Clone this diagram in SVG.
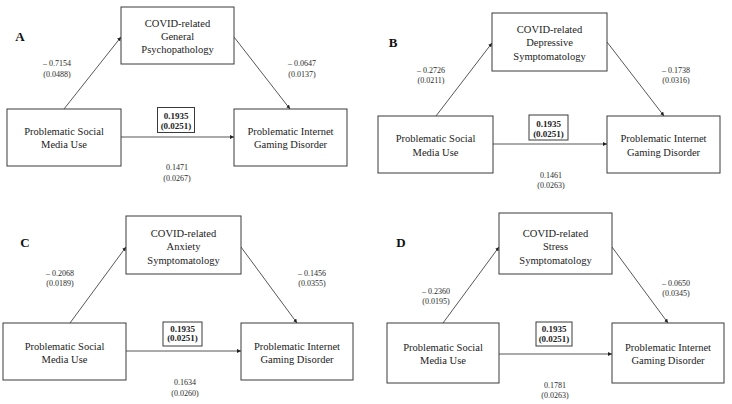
<svg xmlns="http://www.w3.org/2000/svg" width="732" height="404" viewBox="0 0 732 404">
<style>
.bg{fill:#ffffff}
.box{fill:#ffffff;stroke:#3a3a3a;stroke-width:1}
.cbox{fill:#ffffff;stroke:#3a3a3a;stroke-width:1}
.t{font-family:"Liberation Serif","Times New Roman",serif;font-size:10.5px;fill:#222;text-anchor:middle}
.s{font-family:"Liberation Serif","Times New Roman",serif;font-size:8px;fill:#2a2a2a;text-anchor:middle}
.b{font-family:"Liberation Serif","Times New Roman",serif;font-size:9px;font-weight:bold;fill:#222;text-anchor:middle}
.p{font-family:"Liberation Serif","Times New Roman",serif;font-size:13px;font-weight:bold;fill:#111;text-anchor:middle}
.e{fill:none;stroke:#444;stroke-width:0.9;marker-end:url(#ah)}
</style>
<defs>
<marker id="ah" viewBox="0 0 6 6" refX="6" refY="3" markerWidth="4" markerHeight="4" markerUnits="userSpaceOnUse" orient="auto">
<path d="M0,0 L6,3 L0,6 z" fill="#222"/>
</marker>
</defs>
<rect class="bg" x="0" y="0" width="732" height="404"/>

<g id="connectors">
<!-- A -->
<line class="e" x1="64" y1="109" x2="121" y2="37"/>
<line class="e" x1="234" y1="37" x2="290" y2="109"/>
<line class="e" x1="121" y1="137" x2="234" y2="137"/>
<!-- B -->
<line class="e" x1="436" y1="116" x2="492" y2="43"/>
<line class="e" x1="607" y1="42" x2="664" y2="116"/>
<line class="e" x1="493" y1="144" x2="607" y2="144"/>
<!-- C -->
<line class="e" x1="70" y1="323" x2="126" y2="247"/>
<line class="e" x1="241" y1="247" x2="297" y2="323"/>
<line class="e" x1="126" y1="351" x2="241" y2="351"/>
<!-- D -->
<line class="e" x1="443" y1="323" x2="499" y2="247"/>
<line class="e" x1="612" y1="247" x2="668" y2="323"/>
<line class="e" x1="499" y1="354" x2="612" y2="354"/>
</g>

<!-- Panel A -->
<g id="panelA">
<text class="p" x="20" y="41">A</text>
<g id="A-mediator"><rect class="box" x="121" y="7" width="113" height="57"/>
<text class="t" x="177.5" y="27">COVID-related</text><text class="t" x="177.5" y="40">General</text><text class="t" x="177.5" y="53">Psychopathology</text></g>
<g id="A-psmu"><rect class="box" x="7" y="109" width="114" height="57"/>
<text class="t" x="64" y="135">Problematic Social</text><text class="t" x="64" y="148">Media Use</text></g>
<g id="A-pigd"><rect class="box" x="234" y="109" width="113" height="57"/>
<text class="t" x="290.5" y="135">Problematic Internet</text><text class="t" x="290.5" y="148">Gaming Disorder</text></g>
<g id="A-total"><rect class="cbox" x="157.5" y="107.5" width="37" height="25"/>
<text class="b" x="176" y="119">0.1935</text><text class="b" x="176" y="129">(0.0251)</text></g>
<text class="s" x="57" y="66">– 0.7154</text><text class="s" x="57" y="76.5">(0.0488)</text>
<text class="s" x="302" y="66">– 0.0647</text><text class="s" x="302" y="76.5">(0.0137)</text>
<text class="s" x="177" y="170">0.1471</text><text class="s" x="177" y="180.5">(0.0267)</text>
</g>

<!-- Panel B -->
<g id="panelB">
<text class="p" x="393" y="47">B</text>
<g id="B-mediator"><rect class="box" x="492" y="13" width="115" height="58"/>
<text class="t" x="549.5" y="32.5">COVID-related</text><text class="t" x="549.5" y="46">Depressive</text><text class="t" x="549.5" y="59.5">Symptomatology</text></g>
<g id="B-psmu"><rect class="box" x="378" y="116" width="115" height="57"/>
<text class="t" x="435.5" y="142">Problematic Social</text><text class="t" x="435.5" y="155.5">Media Use</text></g>
<g id="B-pigd"><rect class="box" x="607" y="116" width="113" height="57"/>
<text class="t" x="663.5" y="142">Problematic Internet</text><text class="t" x="663.5" y="155.5">Gaming Disorder</text></g>
<g id="B-total"><rect class="cbox" x="529" y="115" width="39" height="25"/>
<text class="b" x="548.5" y="126.5">0.1935</text><text class="b" x="548.5" y="136.5">(0.0251)</text></g>
<text class="s" x="431" y="73">– 0.2726</text><text class="s" x="431" y="83">(0.0211)</text>
<text class="s" x="676" y="73">– 0.1738</text><text class="s" x="676" y="83">(0.0316)</text>
<text class="s" x="551" y="177.5">0.1461</text><text class="s" x="551" y="188">(0.0263)</text>
</g>

<!-- Panel C -->
<g id="panelC">
<text class="p" x="25" y="247">C</text>
<g id="C-mediator"><rect class="box" x="126" y="216" width="115" height="58"/>
<text class="t" x="183.5" y="236.5">COVID-related</text><text class="t" x="183.5" y="250">Anxiety</text><text class="t" x="183.5" y="263.5">Symptomatology</text></g>
<g id="C-psmu"><rect class="box" x="3" y="323" width="123" height="57"/>
<text class="t" x="64.5" y="349.5">Problematic Social</text><text class="t" x="64.5" y="363">Media Use</text></g>
<g id="C-pigd"><rect class="box" x="241" y="323" width="112" height="57"/>
<text class="t" x="297" y="349.5">Problematic Internet</text><text class="t" x="297" y="363">Gaming Disorder</text></g>
<g id="C-total"><rect class="cbox" x="163" y="322" width="39" height="24"/>
<text class="b" x="182.5" y="331.5">0.1935</text><text class="b" x="182.5" y="341">(0.0251)</text></g>
<text class="s" x="60" y="276">– 0.2068</text><text class="s" x="60" y="286">(0.0189)</text>
<text class="s" x="312" y="276">– 0.1456</text><text class="s" x="312" y="286">(0.0355)</text>
<text class="s" x="185" y="385">0.1634</text><text class="s" x="185" y="396">(0.0260)</text>
</g>

<!-- Panel D -->
<g id="panelD">
<text class="p" x="401" y="247">D</text>
<g id="D-mediator"><rect class="box" x="499" y="213" width="113" height="61"/>
<text class="t" x="555.5" y="236.5">COVID-related</text><text class="t" x="555.5" y="250">Stress</text><text class="t" x="555.5" y="263.5">Symptomatology</text></g>
<g id="D-psmu"><rect class="box" x="387" y="323" width="112" height="60"/>
<text class="t" x="443" y="350.5">Problematic Social</text><text class="t" x="443" y="364">Media Use</text></g>
<g id="D-pigd"><rect class="box" x="612" y="323" width="112" height="60"/>
<text class="t" x="668" y="350.5">Problematic Internet</text><text class="t" x="668" y="364">Gaming Disorder</text></g>
<g id="D-total"><rect class="cbox" x="536" y="322" width="36" height="24"/>
<text class="b" x="554" y="331.5">0.1935</text><text class="b" x="554" y="342">(0.0251)</text></g>
<text class="s" x="436" y="294">– 0.2360</text><text class="s" x="436" y="303.5">(0.0195)</text>
<text class="s" x="676" y="286">– 0.0650</text><text class="s" x="676" y="296">(0.0345)</text>
<text class="s" x="555" y="388">0.1781</text><text class="s" x="555" y="398">(0.0263)</text>
</g>
</svg>
